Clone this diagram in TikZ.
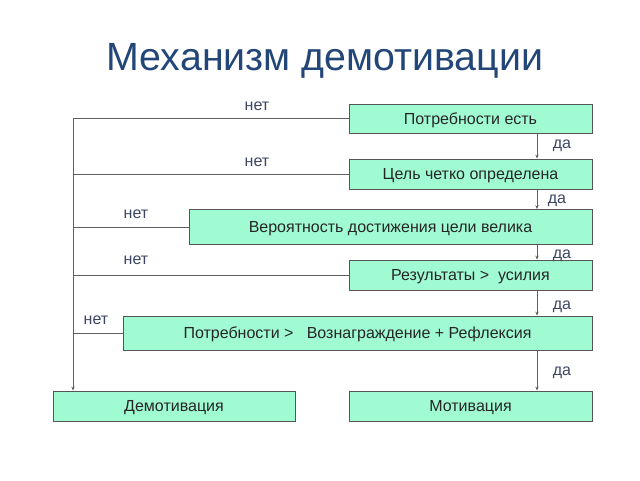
\documentclass[tikz,border=0pt]{standalone}
\usepackage{fontspec}
\setmainfont{Liberation Sans}
\usepackage{tikz}
\usetikzlibrary{arrows.meta}

\definecolor{boxfill}{RGB}{160,250,210}
\definecolor{boxline}{RGB}{85,85,85}
\definecolor{wireline}{RGB}{95,95,95}
\definecolor{labeltext}{RGB}{60,70,100}
\definecolor{titletext}{RGB}{35,70,120}

\tikzset{
  stepbox/.style={draw=boxline, fill=boxfill, line width=0.6pt, inner sep=0pt,
    font=\fontsize{12}{14}\selectfont, text=black!85, text height=11.6pt, text depth=3pt},
  wire/.style={draw=wireline, line width=0.6pt},
  arr/.style={wire, -{Stealth[length=3pt,width=2.5pt]}},
  lbl/.style={text=labeltext, font=\fontsize{12}{14}\selectfont, text height=9.6pt, text depth=1pt}
}

\begin{document}
\begin{tikzpicture}[x=0.75pt,y=-0.75pt]

 \useasboundingbox (0,0) rectangle (640,480);

 \node[text=titletext, font=\fontsize{29.5}{33}\selectfont] (title) at (325,61) {Механизм демотивации};

% Question boxes
 \node[stepbox, minimum width=182.25pt, minimum height=21.75pt] (need)   at (470.5,118.5) {Потребности есть};
 \node[stepbox, minimum width=182.25pt, minimum height=22.5pt]  (goal)   at (470.5,174)   {Цель четко определена};
 \node[stepbox, minimum width=302.25pt, minimum height=26.25pt] (prob)   at (390.5,227)   {Вероятность достижения цели велика};
 \node[stepbox, minimum width=182.25pt, minimum height=22.5pt]  (result) at (470.5,275)   {Результаты >\ \ усилия};
 \node[stepbox, minimum width=351.75pt, minimum height=25.5pt]  (reward) at (357.5,333)   {Потребности >\ \ \ Вознаграждение + Рефлексия};

% Outcome boxes
 \node[stepbox, minimum width=181.5pt,  minimum height=22.5pt]  (demot)  at (174,406)     {Демотивация};
 \node[stepbox, minimum width=182.25pt, minimum height=22.5pt]  (motiv)  at (470.5,406)   {Мотивация};

 \coordinate (yes) at (537,0);  % column of the "yes" arrows
 \coordinate (no)  at (73,0);   % column of the "no" line

% "yes" arrows
 \draw[arr] (need.south -| yes)   -- (goal.north -| yes);
 \draw[arr] (goal.south -| yes)   -- (prob.north -| yes);
 \draw[arr] (prob.south -| yes)   -- (result.north -| yes);
 \draw[arr] (result.south -| yes) -- (reward.north -| yes);
 \draw[arr] (reward.south -| yes) -- (motiv.north -| yes);

% "no" branches
 \draw[wire] (need.west)   -- (need.west -| no);
 \draw[wire] (goal.west)   -- (goal.west -| no);
 \draw[wire] (prob.west)   -- (prob.west -| no);
 \draw[wire] (result.west) -- (result.west -| no);
 \draw[wire] (reward.west) -- (reward.west -| no);
 \draw[arr]  (need.west -| no) -- (demot.north -| no);

% Labels
 \node[lbl] (no1) at (257,105) {нет};
 \node[lbl] (no2) at (257,161) {нет};
 \node[lbl] (no3) at (136,213) {нет};
 \node[lbl] (no4) at (136,259) {нет};
 \node[lbl] (no5) at (96,319)  {нет};

 \node[lbl] (yes1) at (562,143) {да};
 \node[lbl] (yes2) at (557,198) {да};
 \node[lbl] (yes3) at (562,253) {да};
 \node[lbl] (yes4) at (562,304) {да};
 \node[lbl] (yes5) at (562,370) {да};

\end{tikzpicture}
\end{document}
